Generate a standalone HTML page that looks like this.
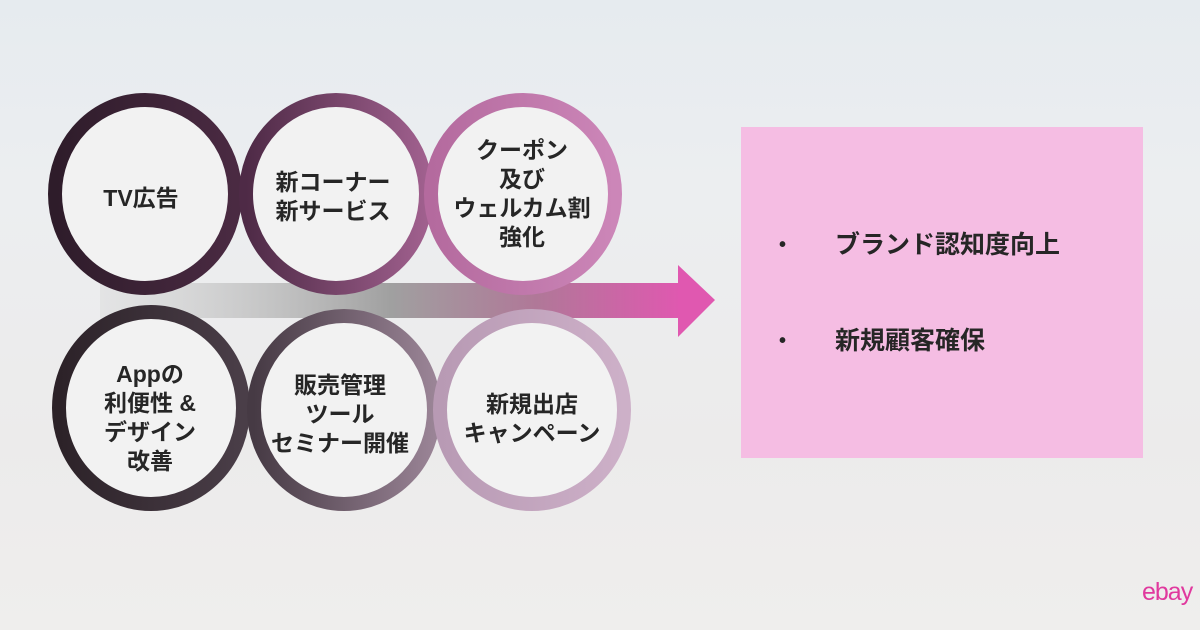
<!DOCTYPE html>
<html><head><meta charset="utf-8"><style>
html,body{margin:0;padding:0}
body{width:1200px;height:630px;overflow:hidden;background:linear-gradient(180deg,#e6ebef 0%,#eceef0 30%,#ecebeb 70%,#efeeed 100%);position:relative;font-family:"Liberation Sans","Noto Sans CJK JP",sans-serif}
svg{position:absolute;left:0;top:0}
.t{font-family:"Liberation Sans","Noto Sans CJK JP",sans-serif;font-weight:bold;fill:#262626;font-size:23px;text-anchor:middle}
.box{position:absolute;left:741px;top:127px;width:402px;height:331px;background:#f5bde3}
.li{position:absolute;left:0;font-weight:bold;font-size:25px;line-height:30px;color:#262626;white-space:nowrap}
.li b{position:absolute;left:38px;font-size:20px}
.li span{position:absolute;left:94px}
.logo{position:absolute;left:1142px;top:578px;font-size:25px;color:#e0399e;letter-spacing:-1px}
</style></head><body>
<svg width="1200" height="630" viewBox="0 0 1200 630">
<defs>
<linearGradient id="ar" x1="0" x2="1"><stop offset="0" stop-color="#cfcfcf" stop-opacity="0.3"/><stop offset="0.5" stop-color="#a0a0a0"/><stop offset="0.75" stop-color="#b07898"/><stop offset="1" stop-color="#e058b0"/></linearGradient>
<linearGradient id="g1" x1="0" x2="1"><stop offset="0" stop-color="#2e1c2a"/><stop offset="1" stop-color="#4a2a42"/></linearGradient>
<linearGradient id="g2" x1="0" x2="1"><stop offset="0" stop-color="#4e2a46"/><stop offset="1" stop-color="#a0608e"/></linearGradient>
<linearGradient id="g3" x1="0" x2="1"><stop offset="0" stop-color="#b46a9e"/><stop offset="1" stop-color="#cc86b8"/></linearGradient>
<linearGradient id="h1" x1="0" x2="1"><stop offset="0" stop-color="#2c2228"/><stop offset="1" stop-color="#4a3e48"/></linearGradient>
<linearGradient id="h2" x1="0" x2="1"><stop offset="0" stop-color="#463a44"/><stop offset="1" stop-color="#9a8496"/></linearGradient>
<linearGradient id="h3" x1="0" x2="1"><stop offset="0" stop-color="#b89ab4"/><stop offset="1" stop-color="#cdb0c8"/></linearGradient>
</defs>
<rect x="100" y="283" width="582" height="35" fill="url(#ar)"/>
<polygon points="678,265 715,300 678,337" fill="#e058b0"/>
<g stroke-width="14" fill="#f2f2f2">
<ellipse cx="145" cy="194" rx="90" ry="94" stroke="url(#g1)"/>
<ellipse cx="336" cy="194" rx="90" ry="94" stroke="url(#g2)"/>
<ellipse cx="523" cy="194" rx="92" ry="94" stroke="url(#g3)"/>
<ellipse cx="151" cy="408" rx="92" ry="96" stroke="url(#h1)"/>
<ellipse cx="344" cy="410" rx="90" ry="94" stroke="url(#h2)"/>
<ellipse cx="532" cy="410" rx="92" ry="94" stroke="url(#h3)"/>
</g>
<text class="t" x="141" y="206">TV広告</text>
<text class="t" x="333" y="190">新コーナー</text>
<text class="t" x="333" y="219">新サービス</text>
<text class="t" x="522" y="158">クーポン</text>
<text class="t" x="522" y="187">及び</text>
<text class="t" x="522" y="216">ウェルカム割</text>
<text class="t" x="522" y="245">強化</text>
<text class="t" x="150" y="382">Appの</text>
<text class="t" x="150" y="411">利便性 &amp;</text>
<text class="t" x="150" y="440">デザイン</text>
<text class="t" x="150" y="469">改善</text>
<text class="t" x="340" y="393">販売管理</text>
<text class="t" x="340" y="422">ツール</text>
<text class="t" x="340" y="451">セミナー開催</text>
<text class="t" x="532" y="412">新規出店</text>
<text class="t" x="532" y="441">キャンペーン</text>
</svg>
<div class="box">
<div class="li" style="top:103px"><b>•</b><span>ブランド認知度向上</span></div>
<div class="li" style="top:199px"><b>•</b><span>新規顧客確保</span></div>
</div>
<div class="logo">ebay</div>
</body></html>
